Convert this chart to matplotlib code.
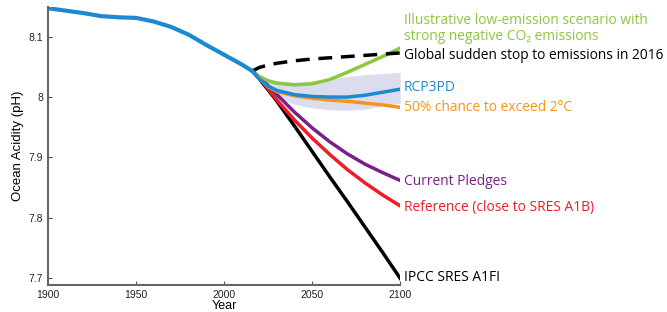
import numpy as np
from matplotlib import pyplot as plt

# historical record
hist_years = [1900, 1910, 1920, 1930, 1940, 1950, 1960, 1970, 1980, 1990, 2000, 2010, 2016]
hist_ph = [8.147, 8.143, 8.139, 8.134, 8.132, 8.131, 8.125, 8.116, 8.103, 8.086, 8.070, 8.054, 8.043]

# scenarios from 2016 onwards
scen_years = [2016, 2020, 2025, 2030, 2040, 2050, 2060, 2070, 2080, 2090, 2100]
stop_ph = [8.043, 8.049, 8.053, 8.056, 8.060, 8.063, 8.065, 8.067, 8.069, 8.071, 8.073]
green_ph = [8.043, 8.034, 8.027, 8.023, 8.020, 8.022, 8.029, 8.041, 8.054, 8.067, 8.081]
rcp_ph = [8.043, 8.030, 8.018, 8.011, 8.004, 8.001, 8.000, 8.000, 8.003, 8.008, 8.013]
orange_ph = [8.043, 8.030, 8.017, 8.009, 8.002, 7.998, 7.995, 7.993, 7.990, 7.987, 7.983]
pledge_ph = [8.043, 8.033, 8.019, 8.004, 7.975, 7.949, 7.926, 7.906, 7.889, 7.875, 7.862]
ref_ph = [8.043, 8.032, 8.014, 7.995, 7.962, 7.932, 7.905, 7.880, 7.858, 7.838, 7.820]
a1fi_ph = [8.043, 8.030, 8.012, 7.993, 7.952, 7.910, 7.868, 7.827, 7.785, 7.743, 7.700]
band_hi = [8.043, 8.036, 8.030, 8.027, 8.025, 8.027, 8.030, 8.034, 8.037, 8.039, 8.041]
band_lo = [8.043, 8.025, 8.008, 7.998, 7.988, 7.982, 7.979, 7.978, 7.980, 7.985, 7.990]

labels = [
    ("Illustrative low-emission scenario with\nstrong negative CO\u2082 emissions", 8.114, '#8dc63f'),
    ("Global sudden stop to emissions in 2016", 8.069, 'black'),
    ("RCP3PD", 8.0165, '#1b8ad3'),
    ("50% chance to exceed 2\u00b0C", 7.982, '#f7941d'),
    ("Current Pledges", 7.861, '#7d1f8b'),
    ("Reference (close to SRES A1B)", 7.818, '#ee1c25'),
    ("IPCC SRES A1FI", 7.702, 'black'),
]

fig = plt.figure(figsize=(6.67, 3.12), dpi=100)
ax = fig.add_axes([0.072, 0.0865, 0.528, 0.891])

ax.fill_between(scen_years, band_lo, band_hi, color='#dcdcef', lw=0)
ax.plot(scen_years, a1fi_ph, color='black', lw=2.5)
ax.plot(scen_years, ref_ph, color='#ee1c25', lw=2.5)
ax.plot(scen_years, pledge_ph, color='#7d1f8b', lw=2.5)
ax.plot(scen_years, orange_ph, color='#f7941d', lw=2.5)
ax.plot(scen_years, green_ph, color='#8dc63f', lw=2.5)
ax.plot(scen_years, stop_ph, color='black', lw=2.5, ls=(0, (4, 2.5)))
ax.plot(scen_years, rcp_ph, color='#1b8ad3', lw=2.5)
ax.plot(hist_years, hist_ph, color='#1b8ad3', lw=3)

for txt, y, c in labels:
    ax.text(2102, y, txt, color=c, fontsize=9.9, va='center', ha='left',
            family=['Open Sans', 'DejaVu Sans'], linespacing=1.1, clip_on=False)

ax.set_xlim(1900, 2100)
ax.set_ylim(7.689, 8.149)
ax.set_xticks([1900, 1950, 2000, 2050, 2100])
ax.set_yticks([7.7, 7.8, 7.9, 8.0, 8.1])
ax.set_yticklabels(['7.7', '7.8', '7.9', '8', '8.1'])
ax.tick_params(direction='in', length=3, width=0.8, labelsize=7.5,
               colors='#555555', labelcolor='#222222')
for lab in ax.get_xticklabels() + ax.get_yticklabels():
    lab.set_family('Liberation Sans')
ax.spines['top'].set_visible(False)
ax.spines['right'].set_visible(False)
for s in ['left', 'bottom']:
    ax.spines[s].set_color('#666666')
    ax.spines[s].set_linewidth(1.5)
ax.set_xlabel("Year", fontsize=9, family='Liberation Sans', labelpad=0)
ax.set_ylabel("Ocean Acidity (pH)", fontsize=9.5, family='Liberation Sans', labelpad=3)

fig.savefig('out.png', dpi=100)
